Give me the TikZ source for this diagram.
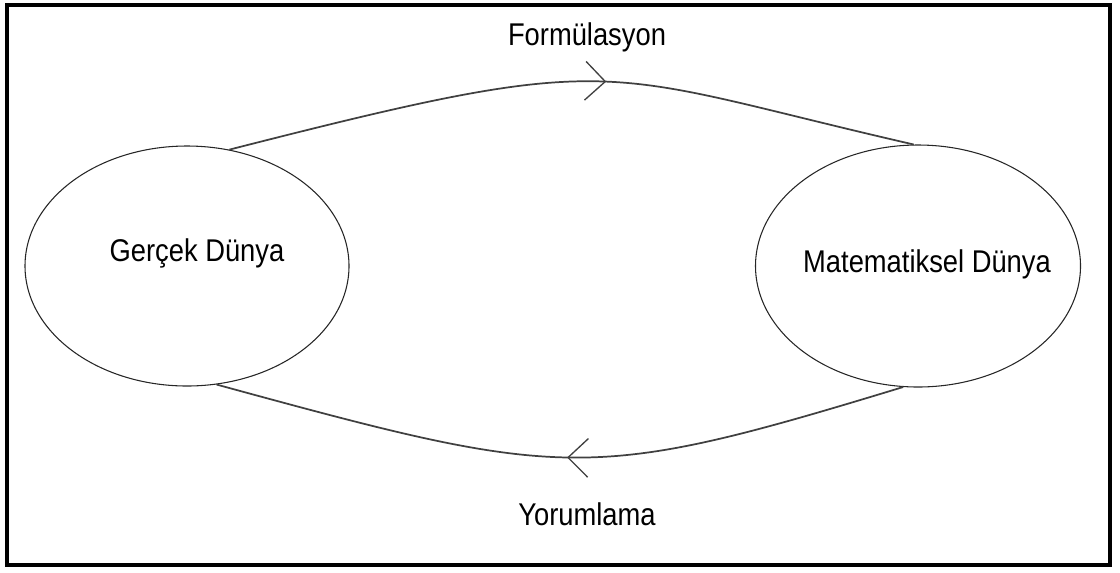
\documentclass[tikz,border=0pt]{standalone}
\usepackage{fontspec}
\setmainfont{Liberation Sans}
\usetikzlibrary{shapes.geometric,arrows.meta,decorations.markings}

\newcommand{\uzun}[1]{\scalebox{1}[1.15]{#1}}

\tikzset{
  dunya/.style={draw=black!85, line width=0.8pt, ellipse, inner sep=0pt},
  akis/.style={draw=black!75, line width=1.3pt},
  etiket/.style={font=\fontsize{20.5}{24}\selectfont, inner sep=0.75pt, anchor=base},
  ok/.style={postaction={decorate}, decoration={markings, mark=at position #1 with {\arrow[line width=1pt]{Straight Barb[length=15pt,width=29pt]}}}}
}

\begin{document}
\begin{tikzpicture}[x=0.75pt,y=0.75pt,yscale=-1,xscale=1]
\useasboundingbox (0,0) rectangle (1120,572);

%Frame
\draw[line width=2.6pt] (7,5) rectangle (1110,565);

%Shape: Ellipses
\node[dunya, minimum width=243pt, minimum height=180pt] (gercek) at (187,266) {};
\node[dunya, minimum width=243.75pt, minimum height=181.5pt] (matem) at (918,266) {};

% Text Node
\node[etiket] (gercekyazi) at (197,261) {\uzun{Gerçek Dünya}};
% Text Node
\node[etiket] (matemyazi) at (927,272) {\uzun{Matematiksel Dünya}};

%Curves
\draw[akis, ok=0.55] (gercek.70) .. controls (627,48) and (593,71) .. (matem.92);
\draw[akis, ok=0.49] (matem.-97) .. controls (588,483) and (566,480) .. (gercek.-76);

% Text Node
\node[etiket] (formul) at (587,45) {\uzun{Formülasyon}};
% Text Node
\node[etiket] (yorum) at (587,525) {\uzun{Yorumlama}};

\end{tikzpicture}
\end{document}
